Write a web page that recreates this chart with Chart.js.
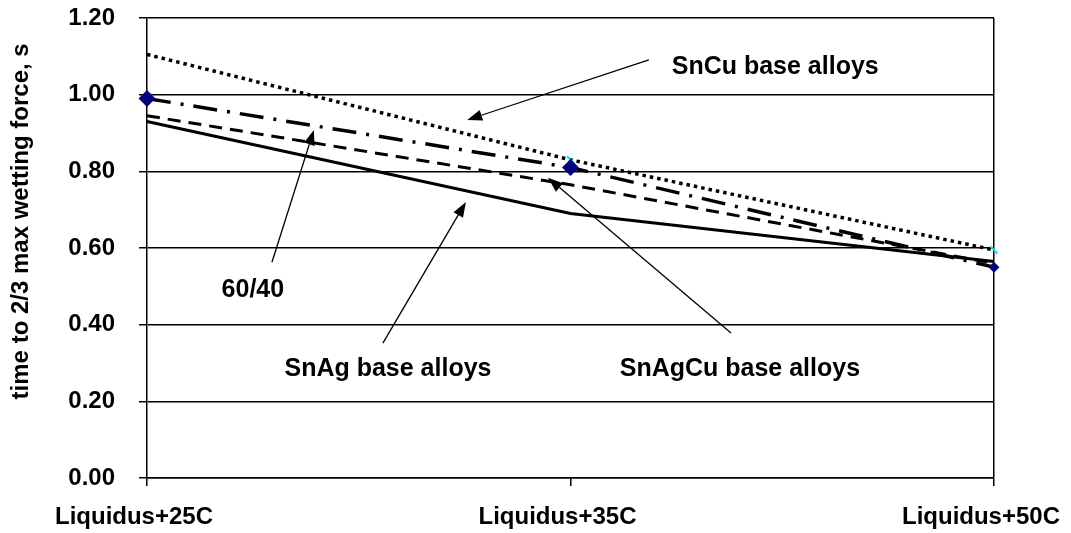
<!DOCTYPE html>
<html>
<head>
<meta charset="utf-8">
<script src="https://cdn.jsdelivr.net/npm/chart.js@4/dist/chart.umd.min.js"></script>
<style>
    body { margin: 0; background: #fff; }
</style>
</head>
<body>
<canvas id="wettingChart" width="1071" height="533"></canvas>
<script>
// Data
const categories = ['Liquidus+25C', 'Liquidus+35C', 'Liquidus+50C'];
const snCu = [1.105, 0.83, 0.595];
const sn6040 = [0.99, 0.81, 0.55];
const snAgCu = [0.945, 0.765, 0.56];
const snAg = [0.93, 0.69, 0.565];
const yTicks = [0, 0.2, 0.4, 0.6, 0.8, 1.0, 1.2];

// Callouts: text anchor + arrow, in data units (x = category index, y = value)
const callouts = [
    { text: 'SnCu base alloys', tx: 1.239, ty: 1.072, align: 'left', from: [1.185, 1.091], to: [0.756, 0.934] },
    { text: '60/40', tx: 0.25, ty: 0.49, align: 'center', from: [0.295, 0.563], to: [0.394, 0.908] },
    { text: 'SnAg base alloys', tx: 0.569, ty: 0.284, align: 'center', from: [0.557, 0.352], to: [0.753, 0.72] },
    { text: 'SnAgCu base alloys', tx: 1.40, ty: 0.284, align: 'center', from: [1.379, 0.378], to: [0.947, 0.783] }
];

const FONT = "'Liberation Sans', Arial, sans-serif";
Chart.defaults.font.family = FONT;
Chart.defaults.color = '#000';

const calloutPlugin = {
    id: 'callouts',
    afterDatasetsDraw(chart) {
        const { ctx, scales: { x, y } } = chart;
        ctx.save();
        ctx.strokeStyle = '#000';
        ctx.fillStyle = '#000';
        ctx.lineWidth = 1.3;
        callouts.forEach(c => {
            const x1 = x.getPixelForValue(c.from[0]), y1 = y.getPixelForValue(c.from[1]);
            const x2 = x.getPixelForValue(c.to[0]), y2 = y.getPixelForValue(c.to[1]);
            const ang = Math.atan2(y2 - y1, x2 - x1);
            const len = 15, half = 5.5;
            const bx = x2 - len * Math.cos(ang), by = y2 - len * Math.sin(ang);
            ctx.beginPath();
            ctx.moveTo(x1, y1);
            ctx.lineTo(bx, by);
            ctx.stroke();
            ctx.beginPath();
            ctx.moveTo(x2, y2);
            ctx.lineTo(bx + half * Math.sin(ang), by - half * Math.cos(ang));
            ctx.lineTo(bx - half * Math.sin(ang), by + half * Math.cos(ang));
            ctx.closePath();
            ctx.fill();

            ctx.font = 'bold 25px ' + FONT;
            ctx.textAlign = c.align;
            ctx.textBaseline = 'middle';
            ctx.fillText(c.text, x.getPixelForValue(c.tx), y.getPixelForValue(c.ty));
        });
        ctx.restore();
    }
};

new Chart(document.getElementById('wettingChart'), {
    type: 'line',
    data: {
        labels: categories,
        datasets: [
            {
                label: 'SnAg base alloys',
                data: snAg,
                borderColor: '#000',
                borderWidth: 3,
                pointRadius: 0,
                tension: 0
            },
            {
                label: 'SnAgCu base alloys',
                data: snAgCu,
                borderColor: '#000',
                borderWidth: 3,
                borderDash: [13, 8],
                pointRadius: 0,
                tension: 0
            },
            {
                label: '60/40',
                data: sn6040,
                borderColor: '#000',
                borderWidth: 3.5,
                borderDash: [24, 10, 3, 10],
                pointStyle: 'rectRot',
                pointRadius: [6, 6, 3],
                pointBackgroundColor: '#000080',
                pointBorderColor: '#000080',
                tension: 0
            },
            {
                label: 'SnCu base alloys',
                data: snCu,
                borderColor: '#000',
                borderWidth: 3.5,
                borderDash: [3.5, 4],
                pointStyle: 'line',
                pointRotation: 45,
                pointRadius: [0, 5, 5],
                pointBorderColor: '#00e5ee',
                pointBorderWidth: 2,
                tension: 0
            }
        ]
    },
    options: {
        responsive: false,
        animation: false,
        layout: { padding: { top: 18, right: 77, left: 0, bottom: 0 } },
        scales: {
            x: {
                grid: {
                    color: ctx => ctx.index === 2 ? '#000' : 'rgba(0,0,0,0)',
                    tickColor: '#000',
                    tickLength: 8,
                    lineWidth: 1.5
                },
                border: { color: '#000', width: 1.5 },
                ticks: {
                    color: '#000',
                    font: { size: 24, weight: 'bold' },
                    padding: 17,
                    labelOffset: -13,
                    maxRotation: 0,
                    autoSkip: false
                },
                afterFit: scale => {
                    scale.height = 55;
                    scale.paddingLeft = 0;
                    scale.paddingRight = 0;
                }
            },
            y: {
                min: 0,
                max: 1.2,
                afterBuildTicks: scale => {
                    scale.ticks = yTicks.map(v => ({ value: v }));
                },
                grid: {
                    color: '#000',
                    tickColor: '#000',
                    tickLength: 8,
                    lineWidth: 1.5
                },
                border: { color: '#000', width: 1.5 },
                ticks: {
                    color: '#000',
                    font: { size: 24, weight: 'bold' },
                    padding: 24,
                    callback: v => Number(v).toFixed(2)
                },
                title: {
                    display: true,
                    // leading no-break spaces lift the centred title a little, as in the original
                    text: '\u00a0'.repeat(8) + 'time to 2/3 max wetting force, s',
                    color: '#000',
                    font: { size: 24, weight: 'bold' },
                    padding: { top: 7, bottom: 0 }
                },
                afterFit: scale => {
                    scale.width = 147;
                    scale.paddingTop = 0;
                    scale.paddingBottom = 0;
                }
            }
        },
        plugins: {
            legend: { display: false },
            tooltip: { enabled: false }
        }
    },
    plugins: [calloutPlugin]
});
</script>
</body>
</html>
